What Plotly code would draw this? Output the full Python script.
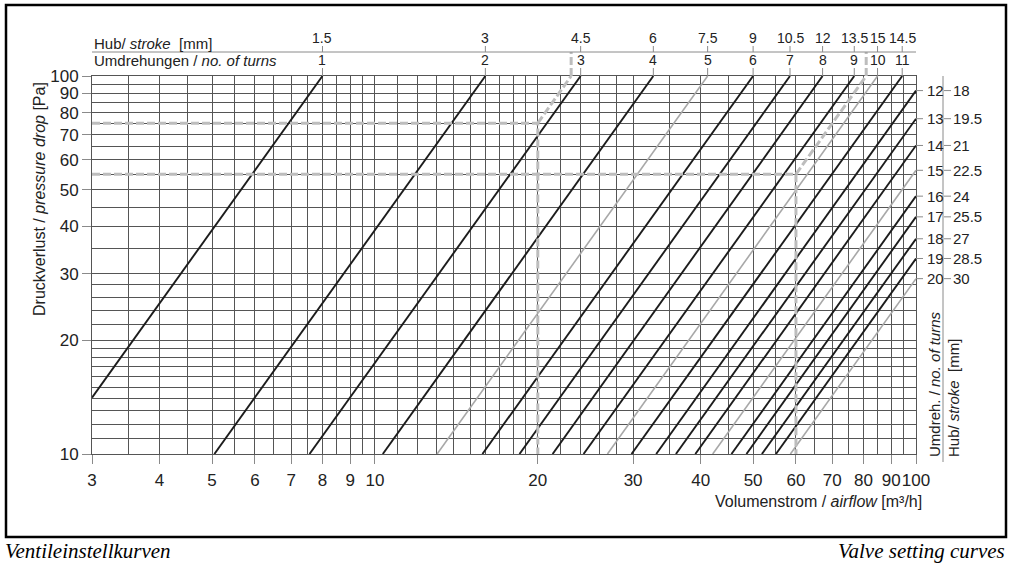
import numpy as np
import plotly.graph_objects as go

turns = list(range(1, 21))
stroke = ["1.5", "3", "4.5", "6", "7.5", "9", "10.5", "12", "13.5", "15", "14.5",
          "18", "19.5", "21", "22.5", "24", "25.5", "27", "28.5", "30"]
flow_start = [3, 5.05, 7.57, 10.34, 13.03, 15.8, 18.5, 21.3, 24.3, 26.9, 29.8,
              33.1, 36.0, 39.1, 42.1, 45.6, 48.6, 51.9, 55.1, 58.6]
dp_start = [14.1, 10, 10, 10, 10, 10, 10, 10, 10, 10, 10,
            10, 10, 10, 10, 10, 10, 10, 10, 10]
flow_end = [8.0, 16.0, 24.0, 32.7, 41.2, 50.0, 58.5, 67.2, 76.9, 84.9, 94.3,
            100, 100, 100, 100, 100, 100, 100, 100, 100]
dp_end = [100, 100, 100, 100, 100, 100, 100, 100, 100, 100, 100,
          91.5, 77.1, 65.5, 56.3, 48.1, 42.4, 37.1, 32.9, 29.1]
grey_turns = [5, 10, 15, 20]

# the two worked examples (dashed)
example_flow = [20, 60]
example_dp = [75, 55]
example_flow_top = [23.05, 80.9]

x_ticks = [3, 4, 5, 6, 7, 8, 9, 10, 20, 30, 40, 50, 60, 70, 80, 90, 100]
y_ticks = [10, 20, 30, 40, 50, 60, 70, 80, 90, 100]
x_grid = [3, 3.5, 4, 4.5, 5, 5.5, 6, 6.5, 7, 7.5, 8, 8.5, 9, 9.5, 10,
          11, 12, 13, 14, 15, 16, 17, 18, 19, 20, 22, 24, 26, 28, 30,
          35, 40, 45, 50, 55, 60, 65, 70, 75, 80, 85, 90, 95, 100]
y_grid = [10, 11, 12, 13, 14, 15, 16, 17, 18, 19, 20, 22, 24, 26, 28, 30,
          35, 40, 45, 50, 55, 60, 65, 70, 75, 80, 85, 90, 95, 100]

W, H = 1012, 564
L, R, T, B = 92, 96, 76, 110
FONT = "Liberation Sans, Arial, sans-serif"
BLACK = "#1c1c1c"
GREY = "#a8a8a8"
DASH = "#bdbdbd"
GRID = "#555555"
TXT = "#222"


def fx(v):  # data -> paper (x)
    return (np.log10(v) - np.log10(x_ticks[0])) / (np.log10(x_ticks[-1]) - np.log10(x_ticks[0]))


def fy(p):  # data -> paper (y)
    return (np.log10(p) - np.log10(y_ticks[0])) / (np.log10(y_ticks[-1]) - np.log10(y_ticks[0]))


def px(x):  # pixel -> paper
    return (x - L) / (W - L - R)


def py(y):
    return (H - B - y) / (H - T - B)


def label(x, y, text, size=15, xa="center", ya="middle", angle=0, **kw):
    d = dict(x=x, y=y, xref="paper", yref="paper", xanchor=xa, yanchor=ya,
             textangle=angle, showarrow=False, text=text,
             font=dict(size=size, color=kw.pop("color", TXT), **kw))
    annotations.append(d)


fig = go.Figure()

for i, t in enumerate(turns):
    grey = t in grey_turns
    fig.add_trace(go.Scatter(
        x=[flow_start[i], flow_end[i]], y=[dp_start[i], dp_end[i]],
        mode="lines", line=dict(color=GREY if grey else BLACK, width=1.6 if grey else 1.9),
        showlegend=False, hoverinfo="skip"))

shapes = []
annotations = []

for f, p, ft in zip(example_flow, example_dp, example_flow_top):
    fig.add_trace(go.Scatter(
        x=[x_ticks[0], f, f, None, f, ft], y=[p, p, y_ticks[0], None, p, y_ticks[-1]],
        mode="lines", line=dict(color=DASH, width=3, dash="8px,3px"),
        showlegend=False, hoverinfo="skip"))
    shapes.append(dict(type="line", xref="paper", yref="paper",
                       x0=fx(ft), x1=fx(ft), y0=1, y1=py(52),
                       line=dict(color=DASH, width=3, dash="8px,3px")))

line_grey = dict(color="#8a8a8a", width=1)

# top scale: turns and stroke
shapes.append(dict(type="line", xref="paper", yref="paper", x0=0, x1=1,
                   y0=py(52), y1=py(52), line=line_grey))
label(px(92), py(43), "Hub/ <i>stroke</i>  [mm]", xa="left")
label(px(92), py(61), "Umdrehungen / <i>no. of turns</i>", xa="left")

for i, t in enumerate(turns):
    if dp_end[i] >= y_ticks[-1]:
        xp = fx(flow_end[i])
        shapes.append(dict(type="line", xref="paper", yref="paper", x0=xp, x1=xp,
                           y0=1, y1=py(68), line=line_grey))
        shapes.append(dict(type="line", xref="paper", yref="paper", x0=xp, x1=xp,
                           y0=py(52), y1=py(46), line=line_grey))
        label(xp, py(60), str(t), size=14)
        label(xp, py(38), stroke[i], size=14)
    else:
        yp = fy(dp_end[i])
        shapes.append(dict(type="line", xref="paper", yref="paper", x0=1, x1=px(923),
                           y0=yp, y1=yp, line=line_grey))
        shapes.append(dict(type="line", xref="paper", yref="paper", x0=px(944), x1=px(951),
                           y0=yp, y1=yp, line=line_grey))
        label(px(925), yp, str(t), xa="left")
        label(px(951), yp, stroke[i], xa="left")

# right scale separator and rotated titles
shapes.append(dict(type="line", xref="paper", yref="paper", x0=px(943), x1=px(943),
                   y0=1, y1=py(462), line=line_grey))
label(px(934), py(459), "Umdreh. / <i>no. of turns</i>", ya="bottom", angle=-90)
label(px(953), py(459), "Hub/ <i>stroke</i>  [mm]", ya="bottom", angle=-90)

# axis titles
label(px(924), py(501), "Volumenstrom / <i>airflow</i> [m³/h]", size=16, xa="right")
label(px(39), py(199), "Druckverlust / <i>pressure drop</i> [Pa]", size=16, angle=-90)

# outer frame and captions
shapes.append(dict(type="rect", xref="paper", yref="paper", x0=px(6), x1=px(1006),
                   y0=py(537), y1=py(5), line=dict(color="black", width=2.5)))
label(px(3), py(551), "<i>Ventileinstellkurven</i>", size=21, xa="left",
      color="black", family="Liberation Serif, serif")
label(px(1007), py(551), "<i>Valve setting curves</i>", size=21, xa="right",
      color="black", family="Liberation Serif, serif")

axis_common = dict(
    showgrid=True, gridcolor=GRID, gridwidth=1,
    showline=True, mirror=True, linecolor=GRID, linewidth=1,
    ticks="outside", ticklen=9, tickcolor="#8a8a8a", tickwidth=1,
    tickfont=dict(size=17, color=TXT), zeroline=False, tickangle=0,
)

fig.update_layout(
    width=W, height=H,
    margin=dict(l=L, r=R, t=T, b=B),
    paper_bgcolor="white", plot_bgcolor="white",
    font=dict(family=FONT),
    showlegend=False,
    xaxis=dict(type="log", range=[np.log10(x_ticks[0]), np.log10(x_ticks[-1])],
               tickmode="array", tickvals=x_ticks, ticktext=[str(v) for v in x_ticks],
               minor=dict(tickmode="array", tickvals=x_grid, showgrid=True,
                          gridcolor=GRID, gridwidth=1, ticks=""),
               ticklabelstandoff=2, **axis_common),
    yaxis=dict(type="log", range=[np.log10(y_ticks[0]), np.log10(y_ticks[-1])],
               tickmode="array", tickvals=y_ticks, ticktext=[str(v) for v in y_ticks],
               minor=dict(tickmode="array", tickvals=y_grid, showgrid=True,
                          gridcolor=GRID, gridwidth=1, ticks=""),
               **axis_common),
    shapes=shapes,
    annotations=annotations,
)

fig.write_html("out.html", config={"displayModeBar": False},
               post_script="document.body.style.margin='0';")
